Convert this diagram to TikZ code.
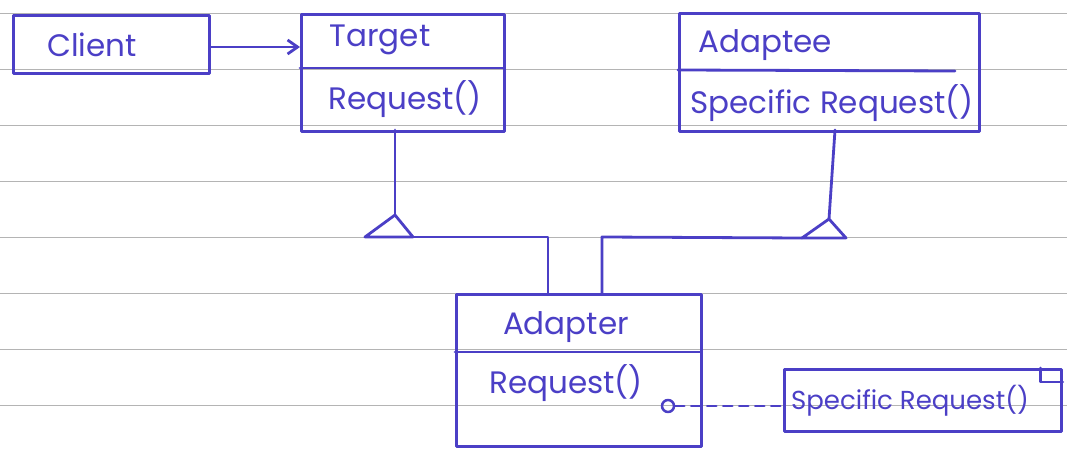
\documentclass[tikz,border=0pt]{standalone}
\usepackage{fontspec}
\setmainfont{Poppins}
\usetikzlibrary{arrows.meta,calc}
\definecolor{ink}{HTML}{4B3FC6}
\definecolor{rule}{HTML}{B4B4B4}
\tikzset{
  x=1pt, y=-1pt,
  pen/.style={draw=ink, line width=2.8pt, line join=round, line cap=round},
  box/.style={pen, rectangle, inner sep=0pt, anchor=north west},
  hand/.style={text=ink, font=\fontsize{31}{35}\selectfont, inner sep=0pt},
  ruling/.style={draw=rule, line width=0.9pt},
}
\begin{document}
\begin{tikzpicture}
\useasboundingbox[fill=white] (0,0) rectangle (1067,454);
% ruled notebook paper
\foreach \ry in {13,69,125,181,237,293,349,405}
  \draw[ruling] (0,\ry) -- (1067,\ry);

% classes
\node[box, minimum width=196pt, minimum height=58pt] (client) at (12,14) {};
\node[hand] (clientT) at (92,45) {Client};

\node[box, minimum width=203pt, minimum height=117pt] (target) at (300,13) {};
\draw[pen] (300,68) -- (503,68);
\node[hand] (targetT) at (380,40) {Target};
\node[hand] (targetR) at (405,99) {Request()};

\node[box, minimum width=300pt, minimum height=118pt] (adaptee) at (678,12) {};
\draw[pen] (678,70) -- (955,71);
\node[hand] (adapteeT) at (765,45) {Adaptee};
\node[hand] (adapteeR) at (832,103) {Specific Request()};

\node[box, minimum width=245pt, minimum height=152pt] (adapter) at (455,293) {};
\draw[pen] (455,352) -- (700,352);
\node[hand] (adapterT) at (566,327) {Adapter};
\node[hand] (adapterR) at (566,383) {Request()};

% implementation note with folded corner
\node[box, minimum width=277pt, minimum height=62pt] (note) at (783,368) {};
\node[hand, font=\fontsize{26}{30}\selectfont] (noteT) at (910,401) {Specific Request()};
\draw[pen] ($(note.north east)+(-22,0)$) -- ($(note.north east)+(-22,14)$) -- ($(note.north east)+(0,14)$);

% association Client -> Target
\draw[pen, -{Straight Barb[length=10pt,width=14pt]}] (client.east |- 0,47) -- (target.west |- 0,47);

% generalization triangles
\coordinate (tri1) at (395,215);
\coordinate (tri2) at (829,219);
\draw[pen] (395,130) -- (tri1);
\draw[pen] (tri1) -- (365,237) -- (413,237) -- cycle;
\draw[pen] (835,130) -- (tri2);
\draw[pen] (tri2) -- (802,238) -- (846,238) -- cycle;

% links down to Adapter
\draw[pen] (365,237) -- (548,237) -- (adapter.north west -| 548,0);
\draw[pen] (802,238) -- (602,237) -- (adapter.north west -| 602,0);

% Request() implementation note link
\node[pen, circle, minimum size=12pt, inner sep=0pt, line width=2.5pt] (dot) at (668,406) {};
\draw[pen, dash pattern=on 9pt off 7pt] (dot) -- (note.west |- 0,406);
\end{tikzpicture}
\end{document}
